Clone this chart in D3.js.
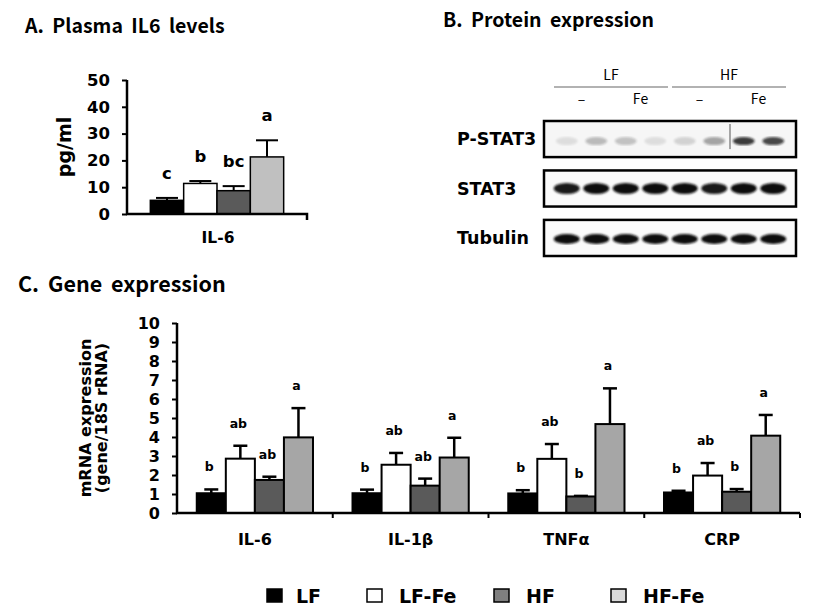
<!DOCTYPE html>
<html>
<head>
<meta charset="utf-8">
<script src="https://cdn.jsdelivr.net/npm/d3@7"></script>
<style>
  body { margin: 0; background: #fff; }
  text { font-family: "DejaVu Sans", sans-serif; font-weight: bold; }
  .title { font-family: "Noto Sans CJK KR", "Noto Sans", sans-serif; font-weight: bold; word-spacing: 4px; }
  .thin { font-family: "Noto Sans CJK KR", "Noto Sans", sans-serif; font-weight: normal; }
</style>
</head>
<body>
<svg id="chart" width="832" height="614"></svg>
<script>
// groups + colours
let groups = ["LF", "LF-Fe", "HF", "HF-Fe"];

// A. plasma IL6 (pg/ml)
let plasmaMean = [5.1, 11.4, 8.7, 21.3];
let plasmaErr = [6.0, 12.3, 10.4, 27.5];
let plasmaLetters = ["c", "b", "bc", "a"];
let plasmaTicks = [0, 10, 20, 30, 40, 50];

// C. gene expression (gene/18S rRNA)
let genes = ["IL-6", "IL-1β", "TNFα", "CRP"];
let geneMean = [
  [1.04, 2.86, 1.74, 3.98],
  [1.04, 2.54, 1.44, 2.92],
  [1.03, 2.85, 0.87, 4.68],
  [1.08, 1.97, 1.12, 4.07],
];
let geneErr = [
  [1.24, 3.54, 1.91, 5.52],
  [1.23, 3.16, 1.81, 3.96],
  [1.2, 3.63, 0.9, 6.56],
  [1.17, 2.63, 1.26, 5.16],
];
let geneLetters = [
  ["b", "ab", "ab", "a"],
  ["b", "ab", "ab", "a"],
  ["b", "ab", "b", "a"],
  ["b", "ab", "b", "a"],
];
let geneTicks = d3.range(0, 11);

// B. western blot band intensities, 8 lanes
let blotRows = ["P-STAT3", "STAT3", "Tubulin"];
let blotIntensity = [
  [0.1, 0.25, 0.22, 0.1, 0.15, 0.35, 0.8, 0.75],
  [0.95, 1, 1, 1, 1, 0.95, 1, 1],
  [1, 1, 1, 1, 1, 1, 1, 1],
];
let laneLabels = ["–", "Fe", "–", "Fe"];

let svg = d3.select("#chart");

// ---------- A ----------
let colorA = d3.scaleOrdinal().domain(groups).range(["#000", "#fff", "#5a5a5a", "#c0c0c0"]);
svg.append("text").attr("class", "title").attr("x", 25).attr("y", 33)
  .attr("font-size", 19.5).text("A. Plasma IL6 levels");

let yA = d3.scaleLinear().domain([0, 50]).range([214, 80]);
let xA0 = d3.scaleBand().domain(["IL-6"]).range([127, 307]);
let xA = d3.scaleBand().domain(groups).range([0, xA0.bandwidth()]).paddingOuter(0.7);

let gA = svg.append("g");
gA.append("g").attr("transform", "translate(127,0)")
  .call(d3.axisLeft(yA).tickValues(plasmaTicks).tickSize(5).tickPadding(12))
  .call((g) => g.select(".domain").attr("stroke-width", 2.5).attr("d", "M0,80V214"))
  .call((g) => g.selectAll("line").attr("stroke-width", 2))
  .call((g) => g.selectAll("text").attr("font-size", 16.5).attr("font-family", "DejaVu Sans").attr("font-weight", "bold"));

let barsA = gA.selectAll(".barA").data(groups).enter().append("g")
  .attr("transform", (d) => `translate(${xA0("IL-6") + xA(d)},0)`);
barsA.append("line")
  .attr("x1", xA.bandwidth() / 2).attr("x2", xA.bandwidth() / 2)
  .attr("y1", (d, i) => yA(plasmaMean[i])).attr("y2", (d, i) => yA(plasmaErr[i]))
  .attr("stroke", "#000").attr("stroke-width", 2);
barsA.append("line")
  .attr("x1", xA.bandwidth() / 2 - 11).attr("x2", xA.bandwidth() / 2 + 11)
  .attr("y1", (d, i) => yA(plasmaErr[i])).attr("y2", (d, i) => yA(plasmaErr[i]))
  .attr("stroke", "#000").attr("stroke-width", 2);
barsA.append("rect")
  .attr("y", (d, i) => yA(plasmaMean[i]))
  .attr("width", xA.bandwidth())
  .attr("height", (d, i) => yA(0) - yA(plasmaMean[i]))
  .attr("fill", (d) => colorA(d)).attr("stroke", "#000").attr("stroke-width", 1.5);
barsA.append("text")
  .attr("x", xA.bandwidth() / 2).attr("y", (d, i) => yA(plasmaErr[i]) - 19)
  .attr("text-anchor", "middle").attr("font-size", 16.5)
  .text((d, i) => plasmaLetters[i]);

gA.append("path").attr("d", `M126,${yA(0)}H307v6`).attr("fill", "none")
  .attr("stroke", "#000").attr("stroke-width", 2.5);
gA.append("text").attr("x", 218).attr("y", 243).attr("text-anchor", "middle")
  .attr("font-size", 15.5).text("IL-6");
gA.append("text").attr("transform", `translate(71,${(yA(0) + yA(50)) / 2}) rotate(-90)`)
  .attr("text-anchor", "middle").attr("font-size", 19).text("pg/ml");

// ---------- B ----------
svg.append("text").attr("class", "title").attr("x", 443).attr("y", 27)
  .attr("font-size", 19.5).text("B. Protein expression");

let defs = svg.append("defs");
defs.append("filter").attr("id", "blur").append("feGaussianBlur").attr("stdDeviation", 1.3);

let lane = d3.scaleBand().domain(d3.range(8)).range([552, 788]);
let rowY = d3.scaleBand().domain(blotRows).range([121, 256]).paddingInner(0.27);
let bandSize = { "P-STAT3": [11, 4], STAT3: [13, 5.5], Tubulin: [13, 5] };
let bandShift = { "P-STAT3": 2, STAT3: 0, Tubulin: 1 };

// header
let header = svg.append("g");
[["LF", 0], ["HF", 4]].forEach(([name, s]) => {
  let x1 = lane(s) + 2, x2 = lane(s + 3) + lane.bandwidth() - 2;
  header.append("text").attr("class", "thin").attr("x", (x1 + x2) / 2).attr("y", 80)
    .attr("text-anchor", "middle").attr("font-size", 14).text(name);
  header.append("line").attr("x1", x1).attr("x2", x2).attr("y1", 87).attr("y2", 87)
    .attr("stroke", "#666").attr("stroke-width", 1.2);
});
laneLabels.forEach((t, i) => {
  header.append("text").attr("class", "thin").attr("x", lane(i * 2) + lane.bandwidth())
    .attr("y", 104).attr("text-anchor", "middle")
    .attr("font-size", 14).text(t);
});

let rows = svg.selectAll(".blot").data(blotRows).enter().append("g");
rows.append("rect").attr("x", 544).attr("width", 252)
  .attr("y", (d) => rowY(d)).attr("height", rowY.bandwidth())
  .attr("fill", (d) => (d == "P-STAT3" ? "#f6f6f6" : "#fafafa"))
  .attr("stroke", "#000").attr("stroke-width", 2.5);
rows.append("text").attr("x", 457).attr("y", (d) => rowY(d) + rowY.bandwidth() / 2 + 6)
  .attr("font-size", 17.5).text((d) => d);
rows.each(function (row, r) {
  let g = d3.select(this);
  let cy = rowY(row) + rowY.bandwidth() / 2 + bandShift[row];
  g.selectAll("ellipse").data(blotIntensity[r]).enter().append("ellipse")
    .attr("cx", (d, i) => lane(i) + lane.bandwidth() / 2)
    .attr("cy", cy)
    .attr("rx", bandSize[row][0]).attr("ry", bandSize[row][1])
    .attr("fill", "#111").attr("opacity", (d) => d)
    .attr("filter", "url(#blur)");
});
// lane seam on the P-STAT3 membrane
rows.filter((d) => d == "P-STAT3").append("line")
  .attr("x1", lane(6) + 1).attr("x2", lane(6) + 1)
  .attr("y1", rowY("P-STAT3") + 3).attr("y2", rowY("P-STAT3") + rowY.bandwidth() - 8)
  .attr("stroke", "#555").attr("stroke-width", 1);

// ---------- C ----------
let colorC = d3.scaleOrdinal().domain(groups).range(["#000", "#fff", "#5a5a5a", "#a6a6a6"]);
svg.append("text").attr("class", "title").attr("x", 18).attr("y", 292)
  .attr("font-size", 21.5).text("C. Gene expression");

let yC = d3.scaleLinear().domain([0, 10]).range([513, 323]);
let xC0 = d3.scaleBand().domain(genes).range([177, 800]);
let xC = d3.scaleBand().domain(groups).range([0, xC0.bandwidth()]).paddingOuter(0.68);

let gC = svg.append("g");
gC.append("g").attr("transform", "translate(177,0)")
  .call(d3.axisLeft(yC).tickValues(geneTicks).tickSize(5).tickPadding(12))
  .call((g) => g.select(".domain").attr("stroke-width", 2.5).attr("d", "M0,323V513"))
  .call((g) => g.selectAll("line").attr("stroke-width", 2))
  .call((g) => g.selectAll("text").attr("font-size", 16).attr("font-family", "DejaVu Sans").attr("font-weight", "bold"));

let cat = gC.selectAll(".cat").data(genes).enter().append("g")
  .attr("transform", (d) => `translate(${xC0(d)},0)`);
cat.each(function (gene, c) {
  let bars = d3.select(this).selectAll("g").data(groups).enter().append("g")
    .attr("transform", (d) => `translate(${xC(d)},0)`);
  let mid = xC.bandwidth() / 2;
  bars.append("line").attr("x1", mid).attr("x2", mid)
    .attr("y1", (d, i) => yC(geneMean[c][i])).attr("y2", (d, i) => yC(geneErr[c][i]))
    .attr("stroke", "#000").attr("stroke-width", 2.5);
  bars.append("line").attr("x1", mid - 7).attr("x2", mid + 7)
    .attr("y1", (d, i) => yC(geneErr[c][i])).attr("y2", (d, i) => yC(geneErr[c][i]))
    .attr("stroke", "#000").attr("stroke-width", 2.5);
  bars.append("rect")
    .attr("y", (d, i) => yC(geneMean[c][i]))
    .attr("width", xC.bandwidth())
    .attr("height", (d, i) => yC(0) - yC(geneMean[c][i]))
    .attr("fill", (d) => colorC(d)).attr("stroke", "#000").attr("stroke-width", 2);
  bars.append("text").attr("x", mid - 2).attr("y", (d, i) => yC(geneErr[c][i]) - 18)
    .attr("text-anchor", "middle").attr("font-size", 12.5)
    .text((d, i) => geneLetters[c][i]);
});

gC.append("path").attr("d", `M176,${yC(0)}H800`).attr("stroke", "#000").attr("stroke-width", 2.5);
gC.selectAll(".sep").data(genes).enter().append("line")
  .attr("x1", (d) => xC0(d) + xC0.bandwidth()).attr("x2", (d) => xC0(d) + xC0.bandwidth())
  .attr("y1", yC(0)).attr("y2", yC(0) + 5).attr("stroke", "#000").attr("stroke-width", 2);
gC.selectAll(".lab").data(genes).enter().append("text")
  .attr("x", (d) => xC0(d) + xC0.bandwidth() / 2).attr("y", 545)
  .attr("text-anchor", "middle").attr("font-size", 16).text((d) => d);
let yl = gC.append("text").attr("transform", `translate(0,${(yC(0) + yC(10)) / 2}) rotate(-90)`)
  .attr("text-anchor", "middle").attr("font-size", 16);
yl.append("tspan").attr("x", 0).attr("y", 91).text("mRNA expression");
yl.append("tspan").attr("x", 0).attr("y", 107).text("(gene/18S rRNA)");

// legend
let legendColor = d3.scaleOrdinal().domain(groups).range(["#000", "#fff", "#7f7f7f", "#d9d9d9"]);
let legendX = d3.scaleOrdinal().domain(groups).range([267, 367, 494, 611]);
let leg = svg.selectAll(".leg").data(groups).enter().append("g")
  .attr("transform", (d) => `translate(${legendX(d)},589)`);
leg.append("rect").attr("width", 15).attr("height", 13)
  .attr("fill", (d) => legendColor(d)).attr("stroke", "#000").attr("stroke-width", 1.5);
leg.append("text").attr("x", (d, i) => (i == 0 ? 29 : 32)).attr("y", 14)
  .attr("font-size", 19).text((d) => d);
</script>
</body>
</html>
